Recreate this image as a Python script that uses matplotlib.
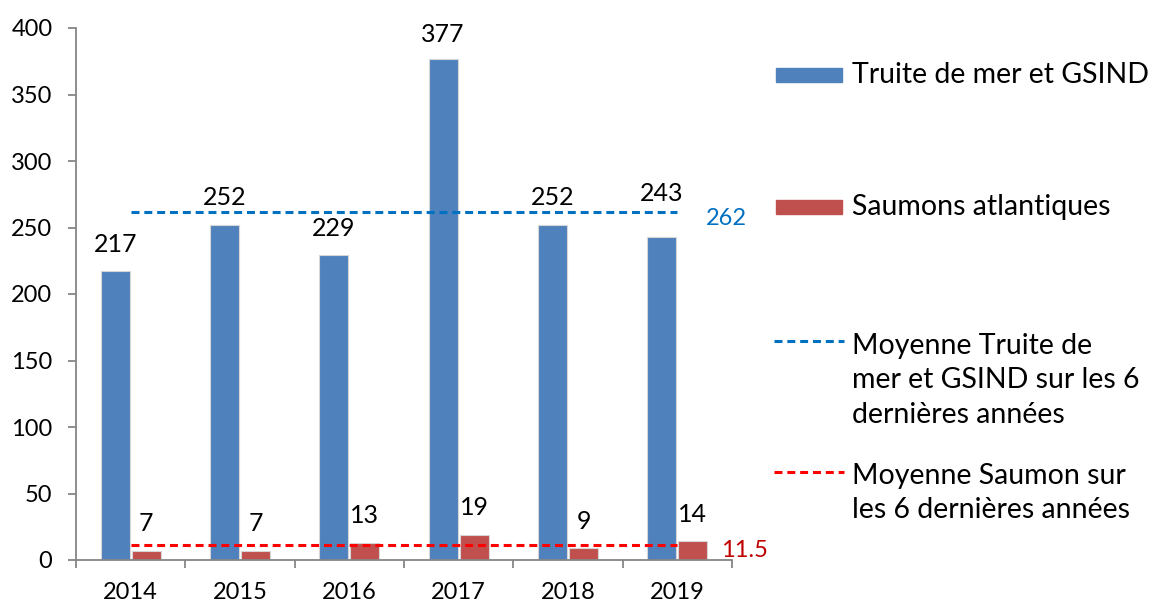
import matplotlib
matplotlib.use("Agg")
import matplotlib.pyplot as plt
import numpy as np
from matplotlib.patches import Rectangle
from matplotlib.lines import Line2D

plt.rcParams['font.family'] = ['Lato', 'DejaVu Sans']

years = ["2014", "2015", "2016", "2017", "2018", "2019"]
truite = [217, 252, 229, 377, 252, 243]
saumon = [7, 7, 13, 19, 9, 14]
moy_truite = 262
moy_saumon = 11.5

legend_labels = ["Truite de mer et GSIND", "Saumons atlantiques",
                 "Moyenne Truite de\nmer et GSIND sur les 6\ndernières années",
                 "Moyenne Saumon sur\nles 6 dernières années"]

blue = "#4F81BD"
red = "#C0504D"
W, H = 1154, 604
fs = 18

fig = plt.figure(figsize=(W / 100, H / 100), dpi=100)
ax = fig.add_axes([76 / W, 44 / H, 656 / W, 532 / H])

x = np.arange(len(years))
w = 0.265
off = 0.142
b1 = ax.bar(x - off, truite, w, color=blue, edgecolor="#d6d6d6", linewidth=0.8)
b2 = ax.bar(x + off, saumon, w, color=red, edgecolor="#d6d6d6", linewidth=0.8)

# the 2019 label sits higher, above the mean line
lift = [14, 14, 14, 12, 14, 26]
for rect, v, d in zip(b1, truite, lift):
    ax.annotate(str(v), (rect.get_x() + rect.get_width() / 2, v), xytext=(0, d),
                textcoords="offset points", ha="center", va="baseline", fontsize=fs)
for rect, v in zip(b2, saumon):
    ax.annotate(str(v), (rect.get_x() + rect.get_width() / 2, v), xytext=(0, 14),
                textcoords="offset points", ha="center", va="baseline", fontsize=fs)

ax.plot([x[0], x[-1]], [moy_truite, moy_truite], color="#0070C0", lw=2.2, dashes=(2.6, 1.6))
ax.plot([x[0], x[-1]], [moy_saumon, moy_saumon], color="#FF0000", lw=2.2, dashes=(2.6, 1.6))
ax.annotate("262", (x[-1] + 0.45, moy_truite), xytext=(0, -5), textcoords="offset points",
            ha="center", va="center", fontsize=fs - 1, color="#0070C0")
ax.annotate("11.5", (x[-1] + 0.4, moy_saumon), xytext=(0, -4), textcoords="offset points",
            ha="left", va="center", fontsize=fs - 1, color="#C00000")

ax.set_xlim(-0.5, len(years) - 0.5)
ax.set_ylim(0, 400)
ax.set_yticks(np.arange(0, 401, 50))
ax.set_xticks(x)
ax.set_xticklabels(years)
ax.set_xticks(np.arange(-0.5, len(years), 1.0), minor=True)
ax.tick_params(axis="x", which="major", length=0, pad=16, labelsize=fs - 1)
ax.tick_params(axis="x", which="minor", length=6, color="#868686", width=1.3)
ax.tick_params(axis="y", length=6, color="#868686", width=1.3, pad=11, labelsize=fs - 1)
for s in ["top", "right"]:
    ax.spines[s].set_visible(False)
for s in ["left", "bottom"]:
    ax.spines[s].set_color("#868686")
    ax.spines[s].set_linewidth(1.3)

# legend drawn by hand
def fx(px):
    return px / W

def fy(py):
    return 1 - py / H

for yc, col in [(75, blue), (207, red)]:
    fig.add_artist(Rectangle((fx(776), fy(yc + 7)), fx(842) - fx(776), 14 / H,
                             transform=fig.transFigure, color=col))
for yc, col in [(341, "#0070C0"), (472, "#FF0000")]:
    fig.add_artist(Line2D([fx(774), fx(844)], [fy(yc), fy(yc)], transform=fig.transFigure,
                          color=col, lw=2.2, dashes=(2.6, 1.6)))

lfs = 20.5
fig.text(fx(852), fy(75), legend_labels[0], ha="left", va="center", fontsize=lfs)
fig.text(fx(852), fy(207), legend_labels[1], ha="left", va="center", fontsize=lfs)
fig.text(fx(852), fy(333), legend_labels[2], ha="left", va="top", fontsize=lfs, linespacing=1.4)
fig.text(fx(852), fy(463), legend_labels[3], ha="left", va="top", fontsize=lfs, linespacing=1.4)

fig.savefig("out.png", dpi=100)
